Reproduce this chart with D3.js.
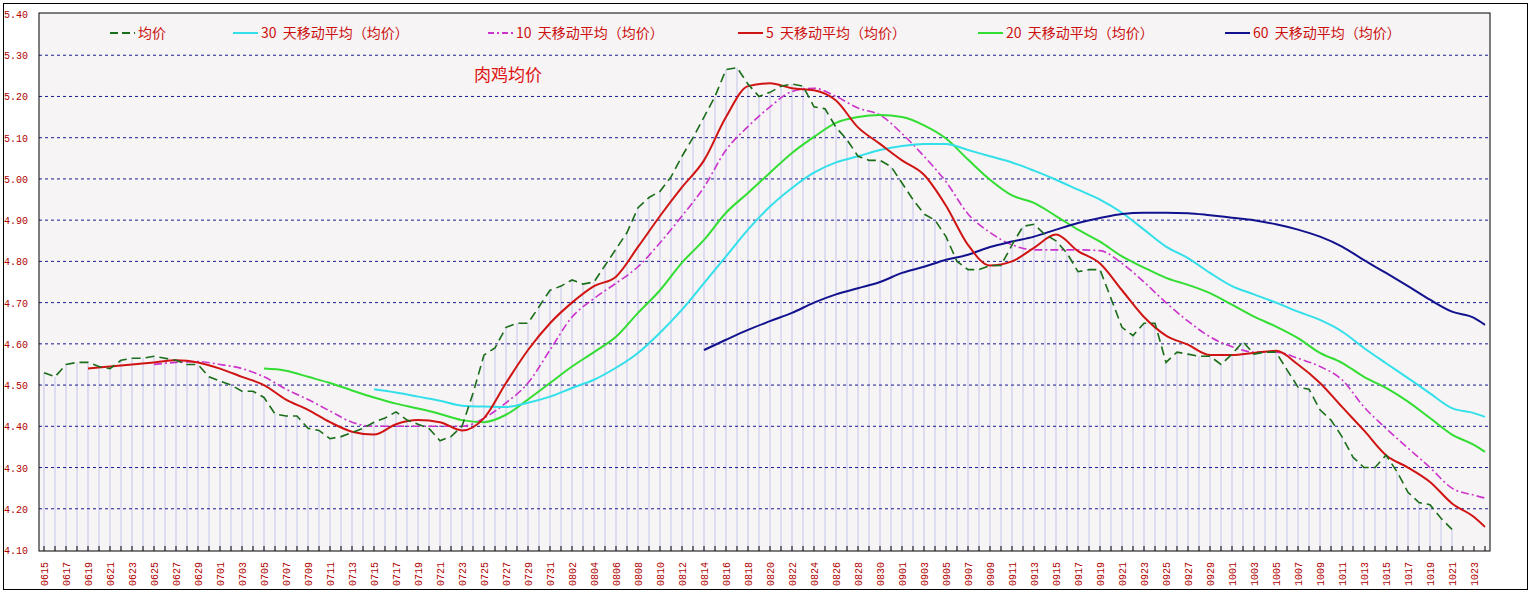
<!DOCTYPE html>
<html><head><meta charset="utf-8">
<script src="https://cdn.jsdelivr.net/npm/d3@7"></script>
<style>body{margin:0;background:#fff}</style>
</head><body>
<div id="drawing_region"></div>
<script>
// daily prices 0615 .. 1021
const price = [4.53,4.52,4.55,4.555,4.555,4.545,4.54,4.56,4.565,4.565,4.57,4.565,4.56,4.55,4.55,4.52,
 4.51,4.50,4.485,4.485,4.47,4.43,4.425,4.425,4.395,4.39,4.37,4.375,4.385,4.395,4.41,4.42,4.435,4.415,4.405,4.395,4.365,4.375,4.40,4.48,4.573,
 4.59,4.64,4.65,4.65,4.69,4.73,4.74,4.755,4.745,4.75,4.79,4.83,4.87,4.93,4.955,4.97,5.005,5.055,5.10,5.15,5.20,5.265,5.27,5.23,5.20,5.21,5.225,5.23,5.225,5.175,5.17,5.125,5.095,5.055,5.045,5.045,5.03,
 4.99,4.95,4.915,4.90,4.86,4.80,4.78,4.78,4.79,4.79,4.84,4.885,4.89,4.865,4.85,4.82,4.775,4.78,4.78,4.71,4.64,4.62,4.65,4.65,4.555,4.58,4.575,4.57,4.57,4.55,
 4.575,4.605,4.575,4.58,4.58,4.537,4.495,4.49,4.44,4.415,4.375,4.325,4.30,4.30,4.33,4.29,4.24,4.215,4.21,4.177,4.15];

// moving averages sampled every 2 days (0615, 0617, ... 1023) plus 1024
const ma5 = [null,null,4.54,4.545,4.55,4.555,4.56,4.555,4.54,4.52,4.50,4.465,4.44,4.41,4.387,4.38,4.405,4.415,4.41,4.39,4.42,
 4.505,4.585,4.65,4.70,4.74,4.763,4.835,4.91,4.98,5.045,5.15,5.225,5.232,5.22,5.215,5.19,5.125,5.085,5.045,5.01,4.935,4.84,4.79,
 4.80,4.833,4.865,4.825,4.795,4.73,4.665,4.62,4.598,4.573,4.573,4.578,4.583,4.55,4.505,4.447,4.39,4.33,4.30,4.265,4.213,4.18,4.156];
const ma10 = [null,null,null,null,null,4.55,4.555,4.557,4.55,4.54,4.52,4.49,4.465,4.437,4.41,4.40,4.40,4.40,4.40,4.40,4.42,
 4.457,4.505,4.585,4.665,4.71,4.747,4.787,4.845,4.91,4.98,5.07,5.127,5.175,5.212,5.22,5.20,5.172,5.155,5.11,5.055,4.993,4.915,4.87,
 4.84,4.828,4.828,4.828,4.826,4.795,4.75,4.70,4.655,4.617,4.593,4.58,4.58,4.565,4.545,4.513,4.447,4.395,4.347,4.30,4.25,4.233,4.226];
const ma20 = [null,null,null,null,null,null,null,null,null,null,4.54,4.535,4.52,4.505,4.487,4.47,4.455,4.443,4.43,4.415,4.41,
 4.428,4.465,4.505,4.545,4.58,4.617,4.675,4.73,4.797,4.852,4.918,4.966,5.015,5.063,5.102,5.136,5.15,5.155,5.15,5.13,5.098,5.047,4.998,
 4.96,4.942,4.91,4.877,4.848,4.812,4.785,4.76,4.743,4.723,4.695,4.666,4.642,4.614,4.578,4.554,4.52,4.493,4.46,4.42,4.38,4.355,4.338];
const ma30 = [null,null,null,null,null,null,null,null,null,null,null,null,null,null,null,4.49,4.482,4.472,4.462,4.45,4.448,
 4.447,4.457,4.472,4.493,4.513,4.542,4.578,4.627,4.683,4.747,4.812,4.877,4.933,4.978,5.015,5.04,5.055,5.07,5.08,5.085,5.085,5.07,5.055,
 5.04,5.02,4.998,4.974,4.95,4.918,4.877,4.836,4.808,4.772,4.74,4.72,4.70,4.678,4.658,4.63,4.59,4.553,4.517,4.48,4.444,4.432,4.423];
const ma60 = [null,null,null,null,null,null,null,null,null,null,null,null,null,null,null,null,null,null,null,null,null,
 null,null,null,null,null,null,null,null,null,4.585,4.61,4.634,4.655,4.675,4.70,4.72,4.735,4.75,4.772,4.787,4.804,4.816,4.835,
 4.848,4.86,4.877,4.893,4.905,4.915,4.918,4.918,4.917,4.912,4.906,4.90,4.89,4.877,4.86,4.836,4.803,4.772,4.74,4.707,4.678,4.663,4.646];
const yTicks = [4.10,4.20,4.30,4.40,4.50,4.60,4.70,4.80,4.90,5.00,5.10,5.20,5.30,5.40];

const days = d3.timeDays(new Date(2020,5,15), new Date(2020,9,25));
const fmt = d3.timeFormat('%m%d');
const labels = days.map(fmt);
const maIdx = d3.range(0, 131, 2).concat([131]);

const W = 1533, H = 616;
const svg = d3.select('#drawing_region').append('svg').attr('width', W).attr('height', H);
const pLeft = 39, pRight = 1490, pTop = 13, pBottom = 551;
const x = d3.scaleLinear().domain([0, 131]).range([44, 1485]);
const y = d3.scaleLinear().domain([4.10, 5.40]).range([550, 14]);

svg.append('rect').attr('x', 3.5).attr('y', 3.5).attr('width', 1524).attr('height', 586)
  .attr('fill', '#fff').attr('stroke', '#000');
svg.append('rect').attr('x', pLeft).attr('y', pTop).attr('width', pRight - pLeft).attr('height', pBottom - pTop)
  .attr('fill', '#f6f4f4');

// price bars
svg.append('g').selectAll('line').data(price).join('line')
  .attr('x1', (d, i) => x(i)).attr('x2', (d, i) => x(i))
  .attr('y1', y(4.10)).attr('y2', d => y(d))
  .attr('stroke', '#c4c4ee').attr('stroke-width', 1);

// grid
svg.append('g').selectAll('line').data(yTicks.slice(1, -1)).join('line')
  .attr('x1', pLeft).attr('x2', pRight).attr('y1', d => y(d)).attr('y2', d => y(d))
  .attr('stroke', '#1a1a90').attr('stroke-dasharray', '3,3');

svg.append('rect').attr('x', pLeft).attr('y', pTop).attr('width', pRight - pLeft).attr('height', pBottom - pTop)
  .attr('fill', 'none').attr('stroke', '#000');

// y labels
svg.append('g').selectAll('text').data(yTicks).join('text')
  .attr('x', 4).attr('y', d => y(d) + 4).text(d => d.toFixed(2))
  .attr('font-family', 'Liberation Mono, monospace').attr('font-size', 10).attr('fill', '#b00000');

// x ticks and labels
svg.append('g').selectAll('line').data(labels).join('line')
  .attr('x1', (d, i) => x(i)).attr('x2', (d, i) => x(i)).attr('y1', pBottom).attr('y2', pBottom - 5)
  .attr('stroke', '#000');
svg.append('g').selectAll('text').data(labels.filter((d, i) => i % 2 === 0)).join('text')
  .attr('transform', (d, i) => `translate(${x(i * 2) + 4},586) rotate(-90)`)
  .text(d => d).attr('font-family', 'Liberation Mono, monospace').attr('font-size', 10).attr('fill', '#b00000');

const series = [
  { name: '均价', color: '#1a6e1a', dash: '9,5', data: price.map((v, i) => [i, v]), lx: 110, w: 1.6 },
  { name: '30\u00a0\u00a0天移动平均（均价）', color: '#33e0ea', dash: null, data: ma30.map((v, k) => [maIdx[k], v]), lx: 233, w: 2 },
  { name: '10\u00a0\u00a0天移动平均（均价）', color: '#cc33cc', dash: '8,3,2,3', data: ma10.map((v, k) => [maIdx[k], v]), lx: 488, w: 1.6 },
  { name: '5\u00a0\u00a0天移动平均（均价）', color: '#d01414', dash: null, data: ma5.map((v, k) => [maIdx[k], v]), lx: 738, w: 2 },
  { name: '20\u00a0\u00a0天移动平均（均价）', color: '#33dd33', dash: null, data: ma20.map((v, k) => [maIdx[k], v]), lx: 978, w: 2 },
  { name: '60\u00a0\u00a0天移动平均（均价）', color: '#12128e', dash: null, data: ma60.map((v, k) => [maIdx[k], v]), lx: 1225, w: 2 }
];
const order = [2, 4, 1, 5, 3, 0];
order.forEach(k => {
  const s = series[k];
  const line = d3.line().defined(d => d[1] != null).x(d => x(d[0])).y(d => y(d[1]))
    .curve(k === 0 ? d3.curveLinear : d3.curveMonotoneX);
  svg.append('path').datum(s.data).attr('d', line).attr('fill', 'none')
    .attr('stroke', s.color).attr('stroke-width', s.w).attr('stroke-dasharray', s.dash);
});

// legend
series.forEach(s => {
  svg.append('line').attr('x1', s.lx).attr('x2', s.lx + 25).attr('y1', 33).attr('y2', 33)
    .attr('stroke', s.color).attr('stroke-width', 2).attr('stroke-dasharray', s.dash ? (s.name === '均价' ? '8,4' : '6,3,2,3') : null);
  svg.append('text').attr('x', s.lx + 28).attr('y', 38).text(s.name)
    .attr('font-family', 'Noto Sans CJK SC, sans-serif').attr('font-size', 14).attr('fill', '#cc1010');
});
svg.append('text').attr('x', 474).attr('y', 81).text('肉鸡均价')
  .attr('font-family', 'Noto Sans CJK SC, sans-serif').attr('font-size', 17).attr('fill', '#dd1111');
</script>
</body></html>
